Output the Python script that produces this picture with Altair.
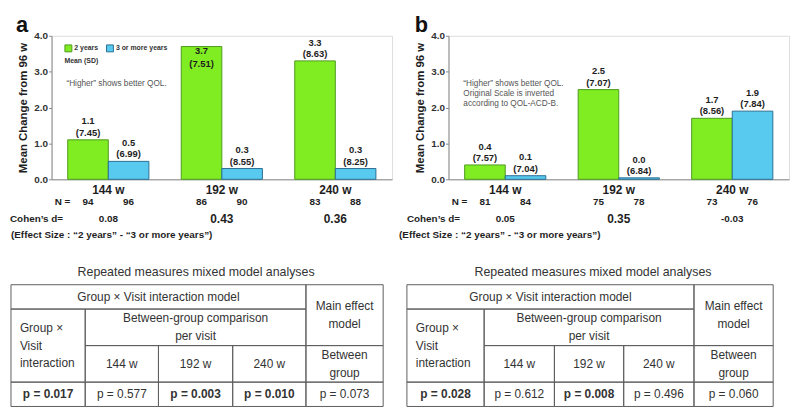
import altair as alt
import pandas as pd

FONT = "Liberation Sans"
INK = "#1e1e1e"
TABLE_INK = "#333333"
GRID_INK = "#5e5e5e"
AXIS_GRAY = "#8a8a8a"
NOTE_INK = "#555555"
GREEN, GREEN_EDGE = "#80EC22", "#4F9A1E"
BLUE, BLUE_EDGE = "#58CAF0", "#2A6E92"

VISITS = ["144 w", "192 w", "240 w"]
GROUPS = ["2 years", "3 or more years"]

# ---- panel a ----
A_MEAN_2Y = [1.1, 3.7, 3.3]
A_MEAN_3Y = [0.5, 0.3, 0.3]
A_SD_2Y = [7.45, 7.51, 8.63]
A_SD_3Y = [6.99, 8.55, 8.25]
A_N_2Y = [94, 86, 83]
A_N_3Y = [96, 90, 88]
A_COHEN_D = [0.08, 0.43, 0.36]
A_P_VALUES = [0.017, 0.577, 0.003, 0.010, 0.073]
A_NOTE = "\u201cHigher\u201d shows better QOL."

# ---- panel b ----
B_MEAN_2Y = [0.4, 2.5, 1.7]
B_MEAN_3Y = [0.1, 0.04, 1.9]
B_SD_2Y = [7.57, 7.07, 8.56]
B_SD_3Y = [7.04, 6.84, 7.84]
B_N_2Y = [81, 75, 73]
B_N_3Y = [84, 78, 76]
B_COHEN_D = [0.05, 0.35, -0.03]
B_P_VALUES = [0.028, 0.612, 0.008, 0.496, 0.060]
B_NOTE = "\u201cHigher\u201d shows better QOL.\nOriginal Scale is inverted\naccording to QOL-ACD-B."

Y_TITLE = "Mean Change from 96 w"
LEGEND_TITLE = "Mean (SD)"
EFFECT_NOTE = "(Effect Size : \u201c2 years\u201d - \u201c3 or more years\u201d)"
TABLE_TITLE = "Repeated measures mixed model analyses"

# table structure: (text, first col, last col, first row, last row, align)
TABLE_HEADER = [
    ("Group \u00d7 Visit interaction model", 0, 4, 0, 1, "center"),
    ("Main effect\nmodel", 4, 5, 0, 2, "center"),
    ("Group \u00d7\nVisit\ninteraction", 0, 1, 1, 3, "left"),
    ("Between-group comparison\nper visit", 1, 4, 1, 2, "center"),
    ("144 w", 1, 2, 2, 3, "center"),
    ("192 w", 2, 3, 2, 3, "center"),
    ("240 w", 3, 4, 2, 3, "center"),
    ("Between\ngroup", 4, 5, 2, 3, "center"),
]
ROW_WEIGHTS = [2, 3, 3, 2]

# layout (pixels relative to each panel's plot area)
W, H = 344, 145
LAYOUT = {
    "a": dict(col_weights=[75, 74, 75, 74, 78], table_x=[-41, 335], letter_x=-36, effect_x=-41),
    "b": dict(col_weights=[78, 71, 70, 71, 80], table_x=[-42, 328], letter_x=-34, effect_x=-50),
}
TABLE_Y = [251.5, 374.5]
TABLE_LINE_HEIGHT = 18


def cum(ws):
    out = [0]
    for w in ws:
        out.append(out[-1] + w)
    return out


def static_text(text, x, y, **kw):
    kw.setdefault("font", FONT)
    return alt.Chart(pd.DataFrame({"t": [text]})).mark_text(**kw).encode(
        x=alt.value(x), y=alt.value(y), text="t:N")


def panel(letter, m2, m3, s2, s3, n2, n3, dvals, pvals, note):
    lay = LAYOUT[letter]
    bars = pd.DataFrame({
        "visit": VISITS * 2,
        "group": [GROUPS[0]] * 3 + [GROUPS[1]] * 3,
        "mean": m2 + m3,
        "sd": s2 + s3,
        "n": n2 + n3,
    })
    bars["sd_label"] = ["(%.2f)" % s for s in bars["sd"]]

    def X(axis=None):
        return alt.X("visit:N", scale=alt.Scale(domain=VISITS, paddingInner=0.285, paddingOuter=0.1425), axis=axis)

    def XO_band():
        return alt.XOffset("group:N", scale=alt.Scale(domain=GROUPS, paddingInner=0, paddingOuter=0))

    def XO_point():
        return alt.XOffset("group:N", scale=alt.Scale(type="point", domain=GROUPS, padding=0.5))

    YS = alt.Scale(domain=[0, 4], nice=False, zero=True)

    leg = alt.Legend(
        title=LEGEND_TITLE, orient="none", legendX=13, legendY=8.5, direction="horizontal",
        titleOrient="bottom", titleAnchor="start", titleFont=FONT, titleFontSize=7,
        titleFontWeight="bold", titleColor="#333333", titlePadding=3,
        labelFont=FONT, labelFontSize=7, labelFontWeight="bold", labelColor="#333333",
        labelOffset=2, symbolType="square", symbolSize=49, symbolStrokeWidth=1,
        columnPadding=5, padding=0, symbolOffset=0)

    bar_layer = alt.Chart(bars).mark_bar(strokeWidth=1).encode(
        x=X(alt.Axis(title=None, ticks=False, tickSize=0, labelPadding=5.5, labelAngle=0,
                     labelFont=FONT, labelFontSize=12, labelFontWeight="bold", labelColor=INK,
                     domainColor=AXIS_GRAY, domainWidth=1)),
        xOffset=XO_band(),
        y=alt.Y("mean:Q", scale=YS, axis=alt.Axis(
            title=Y_TITLE, values=[0, 1, 2, 3, 4], format=".1f", grid=False,
            tickSize=3, tickColor=AXIS_GRAY, domainColor=AXIS_GRAY, labelPadding=1,
            labelFont=FONT, labelFontSize=10, labelFontWeight="bold", labelColor="#333333",
            titleFont=FONT, titleFontSize=11.5, titleFontWeight="bold", titleColor=INK,
            titleX=-28, titleBaseline="middle")),
        color=alt.Color("group:N", scale=alt.Scale(domain=GROUPS, range=[GREEN, BLUE]), legend=leg),
        stroke=alt.Stroke("group:N", scale=alt.Scale(domain=GROUPS, range=[GREEN_EDGE, BLUE_EDGE]), legend=leg),
    )

    lbl = alt.Chart(bars).encode(x=X(), xOffset=XO_point(), y=alt.Y("mean:Q", scale=YS, axis=None))
    t9 = dict(font=FONT, fontSize=9.5, fontWeight="bold", color=INK, baseline="middle")
    outside = "datum.mean < 3.5"
    inside = "datum.mean >= 3.5"
    out_val = lbl.transform_filter(outside).mark_text(dy=-18.5, **t9).encode(text=alt.Text("mean:Q", format=".1f"))
    out_sd = lbl.transform_filter(outside).mark_text(dy=-7, **t9).encode(text="sd_label:N")
    in_val = lbl.transform_filter(inside).mark_text(dy=4.5, **t9).encode(text=alt.Text("mean:Q", format=".1f"))
    in_sd = lbl.transform_filter(inside).mark_text(dy=17.5, **t9).encode(text="sd_label:N")

    t10 = dict(font=FONT, fontSize=10, fontWeight="bold", color=INK, baseline="middle")
    n_layer = alt.Chart(bars).mark_text(**t10).encode(x=X(), xOffset=XO_point(), y=alt.value(167.6), text="n:Q")

    dd = pd.DataFrame({"visit": VISITS, "d": dvals, "d_label": ["%.2f" % v for v in dvals]})
    d_layer = alt.Chart(dd).mark_text(font=FONT, fontWeight="bold", color=INK, baseline="middle").encode(
        x=X(), y=alt.value(185.2), text="d_label:N",
        size=alt.condition("datum.d >= 0.2", alt.value(12), alt.value(10)))

    letter_layer = static_text(letter, lay["letter_x"], -4, fontSize=22, fontWeight="bold",
                               color="#111111", align="left", baseline="alphabetic")
    note_layer = static_text(note, 15, 43.5, fontSize=8.3, color=NOTE_INK, align="left",
                             baseline="top", lineBreak="\n", lineHeight=10.2)
    n_lab = static_text("N =", 19, 167.6, align="right", **t10)
    d_lab = static_text("Cohen\u2019s d=", -42, 185.2, align="left", **t10)
    eff_lab = static_text(EFFECT_NOTE, lay["effect_x"], 200.8, align="left", **t10)
    tbl_title = static_text(TABLE_TITLE, 146, 239, fontSize=12.5, color=TABLE_INK,
                            align="center", baseline="middle")

    # table
    ce = cum(lay["col_weights"])
    re_ = cum(ROW_WEIGHTS)
    px_per_row_unit = (TABLE_Y[1] - TABLE_Y[0]) / re_[-1]
    lh_units = TABLE_LINE_HEIGHT / px_per_row_unit
    rows = []
    for (txt, c0, c1, r0, r1, al) in TABLE_HEADER:
        rows.append(dict(text=txt, c0=ce[c0], c1=ce[c1], r0=re_[r0], r1=re_[r1], align=al, bold=False))
    for i, p in enumerate(pvals):
        rows.append(dict(text="p = %.3f" % p, c0=ce[i], c1=ce[i + 1], r0=re_[3], r1=re_[4],
                         align="center", bold=bool(p < 0.05)))
    cells = pd.DataFrame(rows)
    cells["xc"] = (cells["c0"] + cells["c1"]) / 2
    nlines = cells["text"].str.count("\n")
    cells["yc"] = (cells["r0"] + cells["r1"]) / 2 - nlines * lh_units / 2
    xs = alt.Scale(domain=[0, ce[-1]], range=lay["table_x"], nice=False, zero=False)
    ys = alt.Scale(domain=[0, re_[-1]], range=TABLE_Y, nice=False, zero=False)
    tab = alt.Chart(cells)
    grid = tab.mark_rect(fillOpacity=0, stroke=GRID_INK, strokeWidth=1).encode(
        x=alt.X("c0:Q", scale=xs, axis=None), x2="c1:Q",
        y=alt.Y("r0:Q", scale=ys, axis=None), y2="r1:Q")
    tt = dict(font=FONT, fontSize=12, color=TABLE_INK, baseline="middle", lineBreak="\n",
              lineHeight=TABLE_LINE_HEIGHT)
    c_txt = tab.transform_filter("datum.align == 'center' && !datum.bold").mark_text(align="center", **tt).encode(
        x=alt.X("xc:Q", scale=xs, axis=None), y=alt.Y("yc:Q", scale=ys, axis=None), text="text:N")
    b_txt = tab.transform_filter("datum.bold").mark_text(align="center", fontWeight="bold", **tt).encode(
        x=alt.X("xc:Q", scale=xs, axis=None), y=alt.Y("yc:Q", scale=ys, axis=None), text="text:N")
    l_txt = tab.transform_filter("datum.align == 'left'").mark_text(align="left", dx=9, **tt).encode(
        x=alt.X("c0:Q", scale=xs, axis=None), y=alt.Y("yc:Q", scale=ys, axis=None), text="text:N")

    return alt.layer(
        bar_layer, out_val, out_sd, in_val, in_sd, n_layer, d_layer,
        letter_layer, note_layer, n_lab, d_lab, eff_lab, tbl_title,
        grid, c_txt, b_txt, l_txt,
    ).resolve_scale(x="independent", y="independent", xOffset="independent").properties(width=W, height=H)


pa = panel("a", A_MEAN_2Y, A_MEAN_3Y, A_SD_2Y, A_SD_3Y, A_N_2Y, A_N_3Y, A_COHEN_D, A_P_VALUES, A_NOTE)
pb = panel("b", B_MEAN_2Y, B_MEAN_3Y, B_SD_2Y, B_SD_3Y, B_N_2Y, B_N_3Y, B_COHEN_D, B_P_VALUES, B_NOTE)

chart = alt.hconcat(pa, pb, spacing=57, bounds="flush").properties(
    padding={"left": 1, "top": 3, "right": 0, "bottom": 0},
    background="white",
).configure_view(strokeWidth=0).configure(font=FONT)

chart.save("out.html", embed_options={"renderer": "svg", "actions": False})
